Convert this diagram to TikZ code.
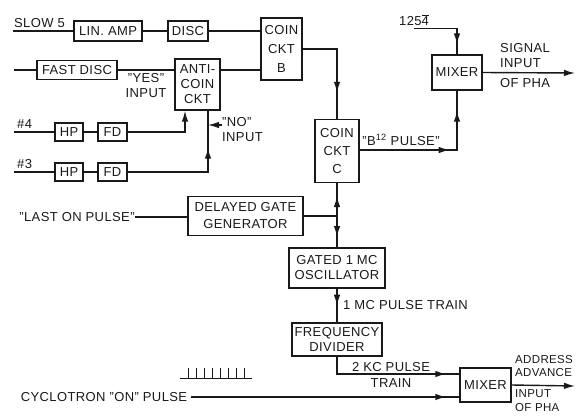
\documentclass[tikz,border=0pt]{standalone}
\usepackage{fontspec}
\setmainfont{Liberation Sans}[LetterSpace=3]
\usepackage{tikz}
\usetikzlibrary{arrows.meta, decorations.markings}
\definecolor{ink}{RGB}{25,25,25}
\newcommand{\lett}{\fontsize{13}{15}\selectfont}
\newcommand{\smlett}{\fontsize{11.5}{13}\selectfont}
\tikzset{
  box/.style={rectangle, draw=ink, line width=1.4pt, align=center,
    inner sep=1pt, font=\lett, text=ink},
  lbl/.style={font=\lett, text=ink, inner sep=0pt, align=center},
  wire/.style={line width=1.4pt, color=ink},
  arrow/.style={wire, -{Latex[length=11pt,width=6.5pt]}},
  tip/.style={postaction={decorate, decoration={markings,
    mark=at position #1 with {\arrow{Latex[length=11pt,width=6.5pt]}}}}}
}
\begin{document}
\begin{tikzpicture}[x=1pt, y=-1pt]
\useasboundingbox (0,0) rectangle (576,416);
% blocks
\node[box, minimum width=68pt, minimum height=20pt] (linamp) at (108,31) {LIN. AMP};
\node[box, minimum width=40pt, minimum height=20pt] (disc) at (188,31) {DISC};
\node[box, minimum width=41pt, minimum height=62pt] (coinb) at (281.5,49) {COIN\\[4pt]CKT\\[4pt]B};
\node[box, minimum width=80pt, minimum height=19pt] (fastdisc) at (77,70) {FAST DISC};
\node[box, minimum width=45pt, minimum height=51pt] (anti) at (197.5,84.5) {ANTI-\\COIN\\CKT};
\node[box, minimum width=28pt, minimum height=18pt] (hpa) at (69,132) {HP};
\node[box, minimum width=29pt, minimum height=18pt] (fda) at (112.5,132) {FD};
\node[box, minimum width=28pt, minimum height=18pt] (hpb) at (69,172) {HP};
\node[box, minimum width=29pt, minimum height=18pt] (fdb) at (112.5,172) {FD};
\node[box, minimum width=44pt, minimum height=63pt] (coinc) at (337,151) {COIN\\[3pt]CKT\\[3pt]C};
\node[box, minimum width=50pt, minimum height=35pt] (mixtop) at (457,72.5) {MIXER};
\node[box, minimum width=115pt, minimum height=39pt] (delay) at (245.5,216) {DELAYED GATE\\[2pt]GENERATOR};
\node[box, minimum width=96pt, minimum height=40pt] (gated) at (337,268) {GATED 1 MC\\OSCILLATOR};
\node[box, minimum width=90pt, minimum height=33pt] (divider) at (337,339.5) {FREQUENCY\\DIVIDER};
\node[box, minimum width=51pt, minimum height=34pt] (mixbot) at (485.5,385) {MIXER};
% labels
\node[lbl, anchor=west] (slow) at (14,23) {SLOW 5};
\node[lbl, anchor=west] (sharpa) at (17,124) {\#4};
\node[lbl, anchor=west] (sharpb) at (17,164) {\#3};
\node[lbl] (yes) at (146,86) {"YES"\\INPUT};
\node[lbl, align=left, anchor=west] (noin) at (222,130) {"NO"\\INPUT};
\node[lbl] (src) at (414,20) {125$\overline{\hbox{4}}$};
\node[lbl, align=left, anchor=west] (sigin) at (500,56) {SIGNAL\\INPUT};
\node[lbl, anchor=west] (sigpha) at (500,83) {OF PHA};
\node[lbl] (bpulse) at (401,140) {"B\textsuperscript{12} PULSE"};
\node[lbl] (last) at (77,217) {"LAST ON PULSE"};
\node[lbl, anchor=west] (mctrain) at (343,305) {1 MC PULSE TRAIN};
\node[lbl] (kctrain) at (391,375) {2 KC PULSE\\[1pt]TRAIN};
\node[lbl] (cyc) at (104,397) {CYCLOTRON "ON" PULSE};
\node[lbl, font=\smlett, align=left, anchor=west] (addr) at (515,366.5) {ADDRESS\\ADVANCE};
\node[lbl, font=\smlett, align=left, anchor=west] (inpha) at (515,401) {INPUT\\[1pt]OF PHA};
\coordinate (slowin) at (13,31);
\coordinate (fastin) at (14,70);
\coordinate (ina) at (14,132);
\coordinate (inb) at (14,172);
\coordinate (vertb) at ([xshift=10.5pt]anti.south);
\coordinate (junc) at (337,216);
\coordinate (sigend) at (575,73);
\coordinate (addrend) at (575,386);
% top chain
\draw[wire] (slowin) -- (linamp);
\draw[wire] (linamp) -- (disc);
\draw[wire] (disc.east) -- (disc.east -| coinb.west);
\draw[wire] (fastin) -- (fastdisc);
\draw[wire] (fastdisc.east) -- (fastdisc.east -| anti.west);
\draw[wire] (fastdisc.east -| anti.east) -- (fastdisc.east -| coinb.west);
% #4 and #3
\draw[wire] (ina) -- (hpa);
\draw[wire] (hpa) -- (fda);
\draw[arrow] (fda.east) -| ([xshift=-12.5pt]anti.south);
\draw[wire] (inb) -- (hpb);
\draw[wire] (hpb) -- (fdb);
\draw[wire, tip=-37pt] (fdb.east) -| (vertb);
\draw[arrow] ([yshift=5pt]noin.west) -- ([yshift=5pt]noin.west -| vertb);
% coincidence to mixer
\draw[wire, tip=-26pt] (coinb.east) -| (coinc.north);
\draw[wire, tip=90pt, tip=-20pt] ([yshift=1pt]coinc.east) -| (mixtop.south);
\draw[wire, tip=-10pt] ([yshift=-3pt]src.south) -| (mixtop.north);
\draw[arrow] (mixtop.east) -- (sigend);
% gate and oscillator
\draw[wire] (last.east) -- (last.east -| delay.west);
\draw[wire] (delay) -- (junc);
\draw[wire, tip=20pt] (junc) -- (coinc);
\draw[wire, tip=21pt] (junc) -- (gated);
\draw[wire, tip=17pt] (gated) -- (divider);
\draw[wire, tip=-13pt] (divider.south) |- ([yshift=11pt]mixbot.west);
\draw[wire, tip=-13pt] ([xshift=4pt]cyc.east) -- (cyc.east -| mixbot.west);
\draw[arrow] (mixbot.east) -- (addrend);
% pulse train sketch
\draw[wire, line width=1pt] (180,378) -- (252,378);
\foreach \i in {0,...,7}
  \draw[wire, line width=1pt] (188+\i*8.14,378) -- ++(0,-10);
\end{tikzpicture}
\end{document}
